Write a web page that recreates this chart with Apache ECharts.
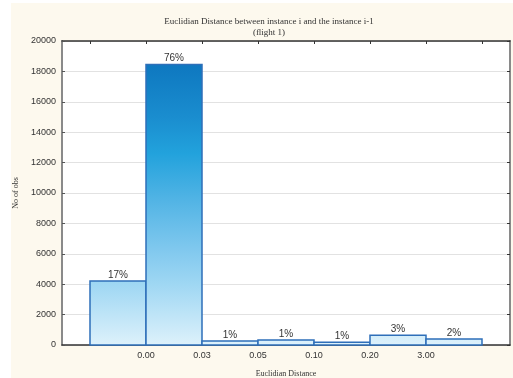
<!DOCTYPE html>
<html>
<head>
<meta charset="utf-8">
<script src="https://cdn.jsdelivr.net/npm/echarts@6/dist/echarts.min.js"></script>
<style>html,body{margin:0;padding:0;background:#fff;}#c{width:513px;height:378px;}</style>
</head>
<body>
<div id="c"></div>
<script>
const categories = ['<0.00', '0.00-0.03', '0.03-0.05', '0.05-0.10', '0.10-0.20', '0.20-3.00', '>3.00'];
const counts = [4210, 18460, 263, 330, 180, 640, 395];
const percentLabels = ['17%', '76%', '1%', '1%', '1%', '3%', '2%'];
const boundaryLabels = ['0.00', '0.03', '0.05', '0.10', '0.20', '3.00'];

const chart = echarts.init(document.getElementById('c'), null, {renderer: 'canvas'});
const serif = 'Liberation Serif';
const sans = 'Liberation Sans';

// bin i spans [i, i+1] on the x value axis
const data = counts.map((v, i) => [i, i + 1, v, i]);

const option = {
  backgroundColor: '#ffffff',
  animation: false,
  graphic: [{
    type: 'rect', z: -10, silent: true,
    shape: {x: 11, y: 3, width: 502, height: 375},
    style: {fill: '#fdf9ee'}
  }],
  title: {
    text: 'Euclidian Distance between instance i and the instance i-1\n(flight 1)',
    left: 264, top: 11, textAlign: 'center',
    textStyle: {fontFamily: serif, fontSize: 9, fontWeight: 'normal', color: '#333', lineHeight: 11}
  },
  grid: {left: 62, right: 3, top: 41, bottom: 33, outerBoundsMode: 'none', containLabel: false,
    show: true, backgroundColor: '#ffffff', borderWidth: 0},
  xAxis: [{
    type: 'value', position: 'bottom', min: -0.5, max: 7.5,
    name: 'Euclidian Distance', nameLocation: 'middle', nameGap: 25,
    nameTextStyle: {fontFamily: serif, fontSize: 8, color: '#333'},
    axisLine: {show: true, onZero: false, lineStyle: {color: '#333', width: 1.5}},
    axisTick: {show: false},
    splitLine: {show: false},
    axisLabel: {
      customValues: [1, 2, 3, 4, 5, 6],
      formatter: v => boundaryLabels[Math.round(v) - 1] || '',
      fontFamily: sans, fontSize: 9, color: '#333', margin: 6
    }
  }, {
    type: 'value', position: 'top', min: -0.5, max: 7.5,
    axisLine: {show: true, onZero: false, lineStyle: {color: '#333', width: 1.5}},
    axisTick: {show: true, inside: true, length: 3, customValues: [0, 1, 2, 3, 4, 5, 6, 7], lineStyle: {color: '#333'}},
    axisLabel: {show: false},
    splitLine: {show: false}
  }],
  yAxis: [{
    type: 'value', min: 0, max: 20000, interval: 2000, position: 'left',
    name: 'No of obs', nameLocation: 'middle', nameGap: 34, nameRotate: 90,
    nameTextStyle: {fontFamily: serif, fontSize: 8, color: '#333'},
    axisLine: {show: true, onZero: false, lineStyle: {color: '#8a8a8a', width: 2}},
    axisTick: {show: true, inside: true, length: 3, lineStyle: {color: '#555'}},
    splitLine: {show: true, lineStyle: {color: '#e2e2e2', width: 1}},
    axisLabel: {fontFamily: sans, fontSize: 9, color: '#333', margin: 6, formatter: v => String(v)}
  }, {
    type: 'value', min: 0, max: 20000, interval: 2000, position: 'right',
    axisLine: {show: true, onZero: false, lineStyle: {color: '#8a8a8a', width: 2}},
    axisTick: {show: true, inside: true, length: 3, lineStyle: {color: '#333'}},
    splitLine: {show: false},
    axisLabel: {show: false}
  }],
  series: [{
    type: 'custom',
    xAxisIndex: 0, yAxisIndex: 0,
    data: data,
    encode: {x: [0, 1], y: 2},
    renderItem: function (params, api) {
      const x0 = api.value(0), x1 = api.value(1), v = api.value(2), idx = api.value(3);
      const p0 = api.coord([x0, v]);
      const p1 = api.coord([x1, 0]);
      const yTop = api.coord([0, 20000])[1];
      const yBot = api.coord([0, 0])[1];
      const grad = new echarts.graphic.LinearGradient(0, yTop, 0, yBot, [
        {offset: 0, color: '#0a6fb8'},
        {offset: 0.08, color: '#0e78c0'},
        {offset: 0.25, color: '#1a8dcf'},
        {offset: 0.37, color: '#22a2dc'},
        {offset: 0.525, color: '#52b4e5'},
        {offset: 0.7, color: '#84caef'},
        {offset: 0.8, color: '#9fd7f3'},
        {offset: 1, color: '#ddf1fb'}
      ], true);
      return {
        type: 'group',
        children: [{
          type: 'rect',
          shape: {x: p0[0], y: p0[1], width: p1[0] - p0[0], height: p1[1] - p0[1]},
          style: {fill: grad, stroke: '#2e6fb9', lineWidth: 1.5}
        }, {
          type: 'text',
          style: {
            text: percentLabels[idx],
            x: (p0[0] + p1[0]) / 2, y: p0[1] - 1,
            align: 'center', verticalAlign: 'bottom',
            fontFamily: sans, fontSize: 10, fill: '#333'
          }
        }]
      };
    }
  }]
};
chart.setOption(option);
</script>
</body>
</html>
